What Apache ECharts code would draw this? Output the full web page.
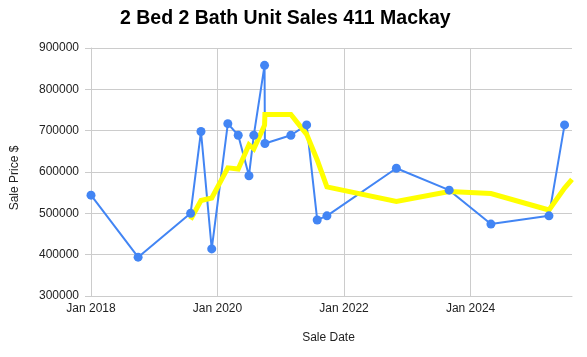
<!DOCTYPE html>
<html>
<head>
<meta charset="utf-8">
<script src="https://cdn.jsdelivr.net/npm/echarts@6/dist/echarts.min.js"></script>
<style>
html,body{margin:0;padding:0;background:#fff;}
#chart{width:587px;height:357px;}
</style>
</head>
<body>
<div id="chart"></div>
<script>
// ---- data ----
const titleText = '2 Bed 2 Bath Unit Sales 411 Mackay';
const xAxisTitle = 'Sale Date';
const yAxisTitle = 'Sale Price $';

const saleDates = ['2018-01-01','2018-09-30','2019-07-30','2019-09-28','2019-11-29',
  '2020-03-01','2020-04-30','2020-07-01','2020-07-29','2020-09-29','2020-10-01',
  '2021-02-28','2021-05-30','2021-07-30','2021-09-24','2022-10-30','2023-08-31',
  '2024-04-28','2025-03-29','2025-06-27'];
const salePrices = [544000,394000,500000,698000,414000,
  717000,689000,591000,689000,858000,669000,
  689000,714000,484000,494000,609000,556000,
  474000,494000,714000];

const avgDates = ['2019-07-30','2019-09-28','2019-11-29',
  '2020-03-01','2020-04-30','2020-07-01','2020-07-29','2020-09-29','2020-10-01',
  '2021-02-28','2021-05-30','2021-07-30','2021-09-24','2022-10-30','2023-08-31',
  '2024-04-28','2025-03-29','2025-06-27','2025-08-09'];
const avgPrices = [485000,531000,537000,
  610000,607000,666000,656000,713000,739000,
  739000,691000,629000,564000,529000,553000,
  548000,508000,561000,582000];

const xMinDate = '2018-01-01';
const xMaxDate = '2025-08-09';
const yTicks = [300000,400000,500000,600000,700000,800000,900000];

// ---- build ----
const toTs = s => { const p = s.split('-').map(Number); return Date.UTC(p[0], p[1]-1, p[2]); };
const MONTHS = ['Jan','Feb','Mar','Apr','May','Jun','Jul','Aug','Sep','Oct','Nov','Dec'];
const TWO_YEARS = 730.5 * 86400000;

const salesData = saleDates.map((d,i) => [toTs(d), salePrices[i]]);
const avgData = avgDates.map((d,i) => [toTs(d), avgPrices[i]]);

const FONT = '"Liberation Sans", Arial, sans-serif';
const chart = echarts.init(document.getElementById('chart'), null, {renderer:'canvas'});
chart.setOption({
  animation: false,
  backgroundColor: '#ffffff',
  title: {
    text: titleText,
    left: 115, top: 4,
    textStyle: {fontFamily: FONT, fontSize: 19.5, fontWeight: 'bold', color: '#000'}
  },
  grid: {left: 91, right: 15, top: 48, bottom: 61, containLabel: false},
  xAxis: {
    type: 'value',
    min: toTs(xMinDate),
    max: toTs(xMaxDate),
    interval: TWO_YEARS,
    name: xAxisTitle,
    nameLocation: 'middle',
    nameGap: 36,
    nameTextStyle: {fontFamily: FONT, fontSize: 12, color: '#222', padding: [0, 6, 0, 0]},
    axisLine: {show: true, lineStyle: {color: '#ccc', width: 1}},
    axisTick: {show: false},
    axisLabel: {
      fontFamily: FONT, fontSize: 12, color: '#222', margin: 7,
      showMaxLabel: false,
      formatter: v => { const d = new Date(v + 43200000); return MONTHS[d.getUTCMonth()] + ' ' + d.getUTCFullYear(); }
    },
    splitLine: {show: true, lineStyle: {color: ['#ccc','#ccc','#ccc','#ccc','rgba(0,0,0,0)'], width: 1}}
  },
  yAxis: {
    type: 'value',
    min: yTicks[0],
    max: yTicks[yTicks.length-1],
    interval: yTicks[1] - yTicks[0],
    name: yAxisTitle,
    nameLocation: 'middle',
    nameGap: 70,
    nameTextStyle: {fontFamily: FONT, fontSize: 12, color: '#222', padding: [0, 12, 0, 0]},
    axisLine: {show: true, lineStyle: {color: '#ccc', width: 1}},
    axisTick: {show: true, length: 6, lineStyle: {color: '#ccc'}},
    axisLabel: {fontFamily: FONT, fontSize: 12, color: '#222', margin: 12,
      formatter: v => String(v)},
    splitLine: {show: true, lineStyle: {color: '#ccc', width: 1}}
  },
  series: [
    {
      name: 'Sales', type: 'line', data: salesData, z: 2,
      showSymbol: false, symbol: 'none',
      lineStyle: {color: '#4285F4', width: 2}
    },
    {
      name: 'Average', type: 'line', data: avgData, z: 3,
      showSymbol: false, symbol: 'none',
      lineStyle: {color: '#FFFF00', width: 5, join: 'miter'}
    },
    {
      name: 'Sales points', type: 'scatter', data: salesData, z: 4,
      symbol: 'circle', symbolSize: 9,
      itemStyle: {color: '#4285F4', opacity: 1}
    }
  ]
});
</script>
</body>
</html>
